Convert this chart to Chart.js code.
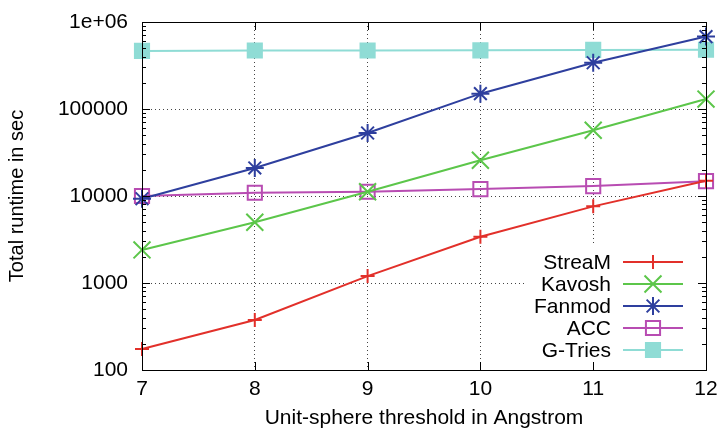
<!DOCTYPE html>
<html>
<head>
<meta charset="utf-8">
<script src="https://cdn.jsdelivr.net/npm/chart.js@4/dist/chart.umd.min.js"></script>
<style>
  body { margin: 0; background: #fff; }
  #wrap { width: 721px; height: 431px; }
</style>
</head>
<body>
<div id="wrap"><canvas id="runtime"></canvas></div>
<script>
var thresholds = [7, 8, 9, 10, 11, 12];
var streamVals  = [174, 376, 1200, 3400, 7600, 15000];
var kavoshVals  = [2400, 5000, 11200, 25800, 57000, 130000];
var fanmodVals  = [9300, 21000, 53000, 150000, 340000, 680000];
var accVals     = [10000, 10900, 11200, 12000, 13000, 14800];
var gtriesVals  = [465000, 470000, 470000, 472000, 478000, 480000];
var yTicks = [100, 1000, 10000, 100000, 1000000];

var names  = ['StreaM', 'Kavosh', 'Fanmod', 'ACC', 'G-Tries'];
var colors = ['#e2302a', '#5cc64a', '#2e3f9e', '#b84cb2', '#8fdcd5'];
var styles = ['cross', 'crossRot', 'star', 'rect', 'rect'];
var radii  = [7, 12, 9, 10, 10];
var fills  = ['#e2302a', '#5cc64a', '#2e3f9e', 'rgba(0,0,0,0)', '#8fdcd5'];
var allVals = [streamVals, kavoshVals, fanmodVals, accVals, gtriesVals];

var FONT = '"Liberation Sans", Arial, sans-serif';

function toPoints(vals) {
  return thresholds.map(function (t, i) { return { x: t, y: vals[i] }; });
}

var datasets = names.map(function (n, i) {
  return {
    label: n,
    data: toPoints(allVals[i]),
    borderColor: colors[i],
    backgroundColor: fills[i],
    borderWidth: 2,
    pointStyle: styles[i],
    pointRadius: radii[i],
    pointBorderWidth: 2,
    pointBorderColor: colors[i],
    pointBackgroundColor: fills[i],
    clip: false
  };
});

// gnuplot-ish frame: inside ticks, mirrored, plus right-aligned key
var frame = {
  id: 'frame',
  afterDraw(chart) {
    var ctx = chart.ctx, a = chart.chartArea;
    var xs = chart.scales.x, ys = chart.scales.y;
    ctx.save();
    // key box (opaque, no border)
    ctx.fillStyle = '#fff';
    ctx.fillRect(527, 245, 170, 115);
    ctx.strokeStyle = '#000';
    ctx.lineWidth = 1;
    ctx.beginPath();
    thresholds.forEach(function (t) {
      var px = Math.round(xs.getPixelForValue(t)) + 0.5;
      ctx.moveTo(px, a.bottom); ctx.lineTo(px, a.bottom - 8);
      ctx.moveTo(px, a.top); ctx.lineTo(px, a.top + 8);
    });
    for (var d = 100; d < 1000000; d *= 10) {
      for (var m = 1; m <= 10; m++) {
        var py = Math.round(ys.getPixelForValue(d * m)) + 0.5;
        var len = (m === 1 || m === 10) ? 8 : 4;
        ctx.moveTo(a.left, py); ctx.lineTo(a.left + len, py);
        ctx.moveTo(a.right, py); ctx.lineTo(a.right - len, py);
      }
    }
    ctx.stroke();
    ctx.strokeRect(Math.round(a.left) + 0.5, Math.round(a.top) + 0.5,
      Math.round(a.right - a.left), Math.round(a.bottom - a.top));

    // key
    ctx.font = '21px ' + FONT;
    ctx.textAlign = 'right';
    ctx.textBaseline = 'middle';
    chart.data.datasets.forEach(function (ds, i) {
      var y = 262 + i * 22;
      ctx.fillStyle = '#000';
      ctx.fillText(ds.label, 611, y + 1);
      ctx.strokeStyle = ds.borderColor;
      ctx.lineWidth = 2;
      ctx.beginPath();
      ctx.moveTo(623, y); ctx.lineTo(683, y);
      ctx.stroke();
      ctx.fillStyle = ds.pointBackgroundColor;
      Chart.helpers.drawPoint(ctx, {
        pointStyle: ds.pointStyle, radius: ds.pointRadius,
        borderWidth: 2, rotation: 0
      }, 653, y);
      if (ds.pointStyle === 'rect') {
        if (ds.pointBackgroundColor !== 'rgba(0,0,0,0)') ctx.fill();
      }
    });
    ctx.restore();
  }
};

new Chart('runtime', {
  type: 'line',
  data: { datasets: datasets },
  plugins: [frame],
  options: {
    responsive: true,
    maintainAspectRatio: false,
    animation: false,
    layout: { padding: { top: 22, right: 15, left: 0, bottom: 0 } },
    plugins: { legend: { display: false }, tooltip: { enabled: false } },
    scales: {
      x: {
        type: 'linear',
        min: 7, max: 12,
        afterFit: function (s) { s.height = 61; s.paddingLeft = 0; s.paddingRight = 0; },
        ticks: { stepSize: 1, color: '#000', padding: 7,
          font: { size: 21, family: FONT } },
        grid: { color: '#444', drawTicks: false },
        border: { color: '#000', width: 1, dash: [1, 3] },
        title: { display: true, text: 'Unit-sphere threshold in Angstrom', color: '#000',
          padding: { top: 2, bottom: 0 },
          font: { size: 21, family: FONT } }
      },
      y: {
        type: 'logarithmic',
        min: 100, max: 1000000,
        afterFit: function (s) { s.width = 142; s.paddingTop = 0; s.paddingBottom = 0; },
        afterBuildTicks: function (s) {
          s.ticks = yTicks.map(function (v) { return { value: v }; });
        },
        ticks: {
          color: '#000', padding: 14,
          font: { size: 21, family: FONT },
          callback: function (v) { return v === 1000000 ? '1e+06' : String(v); }
        },
        grid: { color: '#444', drawTicks: false },
        border: { color: '#000', width: 1, dash: [1, 3] },
        title: { display: true, text: 'Total runtime in sec', color: '#000',
          padding: { top: 5, bottom: 4 },
          font: { size: 20, family: FONT } }
      }
    }
  }
});
</script>
</body>
</html>
